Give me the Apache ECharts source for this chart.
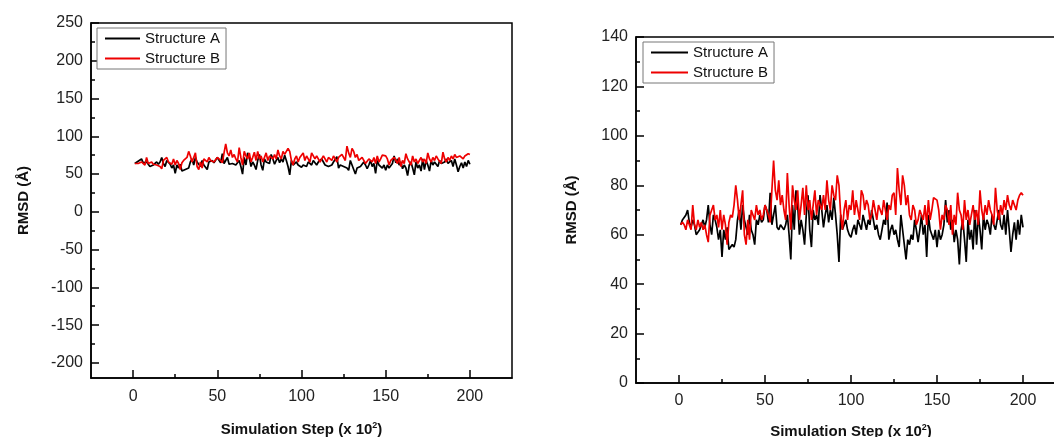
<!DOCTYPE html>
<html>
<head>
<meta charset="utf-8">
<script src="https://cdn.jsdelivr.net/npm/echarts@6/dist/echarts.min.js"></script>
<style>
html,body{margin:0;padding:0;background:#fff;}
#chart{width:1054px;height:437px;}
</style>
</head>
<body>
<div id="chart"></div>
<script>
// ---- data ----
const seriesNames = ['Structure A', 'Structure B'];
const structureA = [
  64, 66, 67, 68, 70, 65, 63, 66, 64, 60, 61, 62, 64, 66, 63, 66, 72, 64, 60, 68,
  66, 63, 58, 62, 51, 62, 58, 63, 54, 55, 56, 55, 58, 66, 70, 62, 72, 66, 63, 60,
  68, 62, 60, 56, 66, 64, 68, 65, 66, 72, 70, 65, 77, 64, 68, 72, 63, 62, 64, 63,
  62, 64, 68, 60, 50, 72, 62, 78, 72, 60, 66, 62, 56, 68, 76, 62, 55, 70, 66, 68,
  64, 76, 70, 63, 68, 72, 65, 70, 66, 75, 68, 60, 49, 68, 62, 64, 66, 62, 60, 59,
  62, 64, 60, 66, 64, 62, 68, 65, 62, 66, 64, 70, 66, 62, 64, 60, 58, 62, 66, 64,
  73, 58, 62, 64, 60, 62, 58, 55, 68, 62, 56, 50, 58, 56, 60, 58, 66, 62, 57, 62,
  68, 60, 64, 51, 68, 62, 60, 58, 62, 55, 62, 58, 60, 64, 74, 65, 70, 62, 66, 57,
  62, 58, 48, 62, 66, 58, 49, 66, 58, 62, 54, 70, 56, 68, 62, 54, 68, 62, 66, 64,
  60, 68, 64, 62, 66, 70, 64, 62, 68, 60, 70, 62, 53, 60, 65, 58, 66, 60, 68, 63
];
const structureB = [
  64, 65, 64, 62, 66, 64, 62, 72, 64, 62, 66, 63, 65, 62, 64, 60, 57, 68, 70, 72,
  66, 68, 63, 70, 62, 68, 64, 56, 65, 68, 67, 72, 80, 74, 66, 72, 78, 60, 56, 66,
  58, 70, 68, 66, 72, 68, 70, 66, 68, 72, 70, 68, 65, 78, 90, 78, 74, 82, 72, 76,
  70, 66, 85, 72, 62, 80, 74, 70, 78, 66, 72, 79, 68, 80, 70, 74, 66, 72, 78, 68,
  74, 72, 70, 76, 70, 82, 74, 70, 80, 76, 74, 84, 80, 68, 62, 70, 74, 66, 72, 70,
  78, 68, 74, 70, 66, 78, 76, 70, 74, 72, 66, 68, 74, 70, 66, 72, 70, 68, 74, 70,
  66, 72, 70, 76, 77, 68, 87, 78, 72, 84, 80, 72, 76, 68, 66, 72, 70, 64, 66, 70,
  68, 66, 72, 64, 74, 66, 70, 75, 75, 74, 70, 62, 68, 66, 72, 70, 64, 72, 60, 68,
  64, 77, 70, 68, 62, 74, 66, 70, 64, 68, 72, 66, 70, 64, 78, 70, 66, 72, 68, 74,
  70, 68, 64, 79, 70, 66, 72, 68, 74, 70, 76, 72, 70, 74, 72, 70, 74, 76, 77, 76
];
const xMajorTicks = [0, 50, 100, 150, 200];
const xMinorTicks = [25, 75, 125, 175];
const leftYMajorTicks = [-200, -150, -100, -50, 0, 50, 100, 150, 200, 250];
const leftYMinorTicks = [-175, -125, -75, -25, 25, 75, 125, 175, 225];
const rightYMajorTicks = [0, 20, 40, 60, 80, 100, 120, 140];
const rightYMinorTicks = [10, 30, 50, 70, 90, 110, 130];
const xTitle = 'Simulation Step (x 10{sup|2})';
const yTitle = 'RMSD (Å)';

// steps: x position of each sample = its index + 1
const toPairs = arr => arr.map((v, i) => [i + 1, v]);

const FONT = '"Liberation Sans", Arial, sans-serif';
const lineColors = ['#000000', '#ee0000'];

function mainX(gridIndex, nameGap, labelMargin) {
  return {
    type: 'value', gridIndex, min: -25, max: 225, position: 'bottom',
    name: xTitle, nameLocation: 'middle', nameGap,
    nameTextStyle: {
      fontFamily: FONT, fontSize: 15, fontWeight: 'bold', color: '#111', lineHeight: 18,
      rich: { sup: { fontFamily: FONT, fontSize: 9, fontWeight: 'bold', color: '#111', verticalAlign: 'top', lineHeight: 10 } }
    },
    axisLine: { show: true, onZero: false, lineStyle: { color: '#000', width: 1.5 } },
    axisTick: { show: true, inside: true, length: 8, customValues: xMajorTicks, lineStyle: { color: '#000', width: 1.5 } },
    axisLabel: { show: true, customValues: xMajorTicks, margin: labelMargin, fontFamily: FONT, fontSize: 16, color: '#222' },
    splitLine: { show: false }
  };
}
function minorX(gridIndex) {
  return {
    type: 'value', gridIndex, min: -25, max: 225, position: 'bottom',
    axisLine: { show: false, onZero: false },
    axisTick: { show: true, inside: true, length: 4, customValues: xMinorTicks, lineStyle: { color: '#000', width: 1.5 } },
    axisLabel: { show: false }, splitLine: { show: false }
  };
}
function mainY(gridIndex, min, max, ticks, nameGap) {
  return {
    type: 'value', gridIndex, min, max, position: 'left',
    name: yTitle, nameLocation: 'middle', nameGap, nameRotate: 90,
    nameTextStyle: { fontFamily: FONT, fontSize: 15, fontWeight: 'bold', color: '#111' },
    axisLine: { show: true, onZero: false, lineStyle: { color: '#000', width: 1.5 } },
    axisTick: { show: true, inside: true, length: 8, customValues: ticks, lineStyle: { color: '#000', width: 1.5 } },
    axisLabel: { show: true, customValues: ticks, margin: 8, fontFamily: FONT, fontSize: 16, color: '#222' },
    splitLine: { show: false }
  };
}
function minorY(gridIndex, min, max, ticks) {
  return {
    type: 'value', gridIndex, min, max, position: 'left',
    axisLine: { show: false, onZero: false },
    axisTick: { show: true, inside: true, length: 4, customValues: ticks, lineStyle: { color: '#000', width: 1.5 } },
    axisLabel: { show: false }, splitLine: { show: false }
  };
}
function legendAt(left, top, itemWidth) {
  return {
    data: seriesNames.map(n => ({ name: n, icon: 'rect' })),
    orient: 'vertical', left, top,
    itemWidth, itemHeight: 2, itemGap: 5,
    padding: [3, 6, 3, 8],
    borderColor: '#777', borderWidth: 1, backgroundColor: '#fff',
    textStyle: { fontFamily: FONT, fontSize: 15, color: '#111' },
    selectedMode: false
  };
}
function line(name, data, xi, yi, color) {
  return {
    type: 'line', name, data: toPairs(data), xAxisIndex: xi, yAxisIndex: yi,
    symbol: 'none', showSymbol: false, animation: false,
    lineStyle: { color, width: 1.7 }, itemStyle: { color }
  };
}

const chart = echarts.init(document.getElementById('chart'), null, { renderer: 'canvas' });
chart.setOption({
  animation: false,
  backgroundColor: '#fff',
  grid: [
    { left: 91, top: 23, width: 421, height: 355, containLabel: false, outerBoundsMode: 'none', show: true, borderColor: '#000', borderWidth: 1.5, backgroundColor: 'transparent' },
    { left: 636, top: 37, width: 430, height: 346, containLabel: false, outerBoundsMode: 'none', show: true, borderColor: '#000', borderWidth: 1.5, backgroundColor: 'transparent' }
  ],
  xAxis: [mainX(0, 43, 11), minorX(0), mainX(1, 40, 10), minorX(1)],
  yAxis: [
    mainY(0, -220, 250, leftYMajorTicks, 60),
    minorY(0, -220, 250, leftYMinorTicks),
    mainY(1, 0, 140, rightYMajorTicks, 57),
    minorY(1, 0, 140, rightYMinorTicks)
  ],
  legend: [legendAt(97, 28, 35), legendAt(643, 42, 37)],
  series: [
    line(seriesNames[0], structureA, 0, 0, lineColors[0]),
    line(seriesNames[1], structureB, 0, 0, lineColors[1]),
    line(seriesNames[0], structureA, 2, 2, lineColors[0]),
    line(seriesNames[1], structureB, 2, 2, lineColors[1])
  ]
});
</script>
</body>
</html>
